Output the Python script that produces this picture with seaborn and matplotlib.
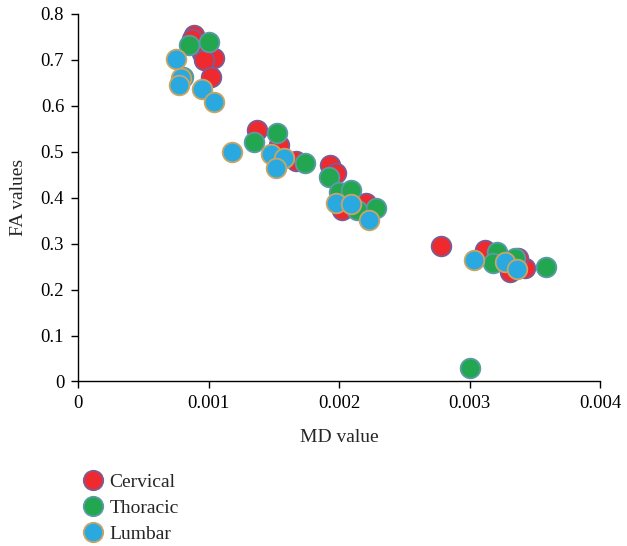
import numpy as np
import pandas as pd
import seaborn as sns
import matplotlib.pyplot as plt
from matplotlib.lines import Line2D

# MD / FA values
cervical_md = [0.000891, 0.000876, 0.000952, 0.001006, 0.001044, 0.000968, 0.001021,
               0.001371, 0.001539, 0.001669, 0.001928, 0.001973, 0.002019, 0.002202,
               0.002781, 0.003116, 0.003352, 0.003307, 0.003421, 0.003368]
cervical_fa = [0.754, 0.745, 0.716, 0.706, 0.704, 0.700, 0.663,
               0.547, 0.515, 0.479, 0.471, 0.454, 0.373, 0.389,
               0.295, 0.286, 0.258, 0.238, 0.247, 0.269]

thoracic_md = [0.000853, 0.001006, 0.000800, 0.001524, 0.001349, 0.001737, 0.001920,
               0.001996, 0.002088, 0.002133, 0.002278, 0.003002, 0.003208, 0.003177,
               0.003345, 0.003581]
thoracic_fa = [0.732, 0.739, 0.663, 0.541, 0.522, 0.475, 0.445,
               0.412, 0.417, 0.373, 0.378, 0.029, 0.282, 0.258,
               0.269, 0.249]

lumbar_md = [0.000747, 0.000785, 0.000770, 0.000952, 0.001044, 0.001181, 0.001478,
             0.001577, 0.001516, 0.001973, 0.002088, 0.002225, 0.003032, 0.003269,
             0.003360]
lumbar_fa = [0.702, 0.661, 0.645, 0.637, 0.608, 0.499, 0.495,
             0.487, 0.465, 0.388, 0.386, 0.351, 0.264, 0.260,
             0.245]

x_ticks = [0, 0.001, 0.002, 0.003, 0.004]
y_ticks = [0, 0.1, 0.2, 0.3, 0.4, 0.5, 0.6, 0.7, 0.8]

sns.set_style("white")
plt.rcParams['font.family'] = ['Liberation Serif', 'DejaVu Serif']

series = [
    ("Cervical", cervical_md, cervical_fa, "#ee2a2f", "#7a5c98"),
    ("Thoracic", thoracic_md, thoracic_fa, "#22a64f", "#5b9aa6"),
    ("Lumbar", lumbar_md, lumbar_fa, "#2aa9e0", "#c9a565"),
]

fig = plt.figure(figsize=(6.27, 5.46), dpi=100)
ax = fig.add_axes([0.1245, 0.3013, 0.833, 0.6731])

for name, md, fa, col, edge in series:
    df = pd.DataFrame({"MD": md, "FA": fa})
    sns.scatterplot(data=df, x="MD", y="FA", ax=ax, color=col, edgecolor=edge,
                    linewidth=1.3, s=200, zorder=3, legend=False)

ax.set_xlim(0, 0.004)
ax.set_ylim(0, 0.8)
ax.set_xticks(x_ticks)
ax.set_xticklabels(["0", "0.001", "0.002", "0.003", "0.004"])
ax.set_yticks(y_ticks)
ax.set_yticklabels(["0", "0.1", "0.2", "0.3", "0.4", "0.5", "0.6", "0.7", "0.8"])
ax.tick_params(direction="out", length=5, width=1, colors="black", labelsize=13.5,
               bottom=True, left=True, pad=5)
for side in ["top", "right"]:
    ax.spines[side].set_visible(False)
for side in ["left", "bottom"]:
    ax.spines[side].set_color("black")
    ax.spines[side].set_linewidth(1)
ax.set_xlabel("MD value", fontsize=14, labelpad=12)
ax.set_ylabel("FA values", fontsize=14, labelpad=10)

handles = [Line2D([0], [0], marker="o", linestyle="", markersize=14,
                  markerfacecolor=col, markeredgecolor=edge, markeredgewidth=1.3,
                  label=name) for name, _, _, col, edge in series]
fig.legend(handles=handles, loc="upper left", bbox_to_anchor=(0.12, 0.148),
           frameon=False, fontsize=14, handletextpad=0.35, labelspacing=0.45,
           borderaxespad=0, handlelength=1.0)

fig.savefig("out.png", dpi=100)
